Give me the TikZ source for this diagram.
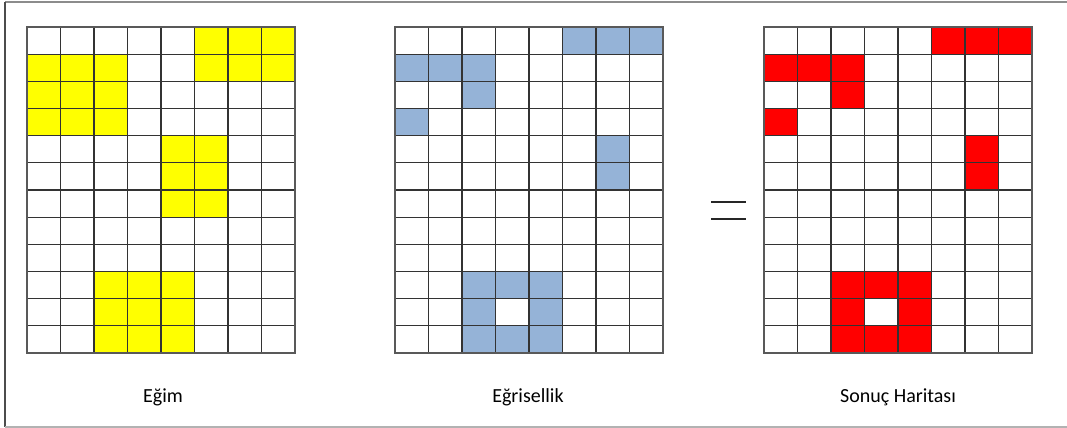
\documentclass[tikz,border=0pt]{standalone}
\usepackage{fontspec}
\setmainfont{Carlito}
\definecolor{cellyellow}{RGB}{255,255,0}
\definecolor{cellblue}{RGB}{149,179,215}
\definecolor{cellred}{RGB}{255,0,0}
\tikzset{
  gridline/.style={draw=black!80,line width=0.8pt},
  framegrid/.style={draw=black!65,line width=1pt},
  caption/.style={inner sep=0.75pt,font=\fontsize{15}{18}\selectfont},
}
% one 8 x 12 map, left edge at #1
\newcommand{\mapgrid}[1]{%
  \foreach \i in {1,...,7} \draw[gridline] ({#1+33.5*\i},27) -- ({#1+33.5*\i},353);
  \foreach \j in {1,...,11} \draw[gridline] (#1,{27+27.1667*\j}) -- ({#1+268},{27+27.1667*\j});
  \draw[framegrid] (#1,27) rectangle ({#1+268},353);
}
\begin{document}
\begin{tikzpicture}[x=0.75pt,y=0.75pt,yscale=-1,xscale=1]
\useasboundingbox (0,0) rectangle (1067,428);

%Frame
\draw[black!45,line width=0.9pt] (1067,2) -- (5,2) ;
\draw[black!70,line width=1.2pt] (5,2) -- (5,427) ;
\draw[black!30,line width=1.2pt] (5,427) -- (1067,427) ;

%Shape: Egim cells
\fill[cellyellow] (194.5,27) rectangle (295,81.33) ;
\fill[cellyellow] (27,54.17) rectangle (127.5,135.67) ;
\fill[cellyellow] (161,135.67) rectangle (228,217.17) ;
\fill[cellyellow] (94,271.5) rectangle (194.5,353) ;
%Shape: Egrisellik cells
\fill[cellblue] (562.5,27) rectangle (663,54.17) ;
\fill[cellblue] (395,54.17) rectangle (495.5,81.33) ;
\fill[cellblue] (462,81.33) rectangle (495.5,108.5) ;
\fill[cellblue] (395,108.5) rectangle (428.5,135.67) ;
\fill[cellblue] (596,135.67) rectangle (629.5,190) ;
\fill[cellblue,even odd rule] (462,271.5) rectangle (562.5,353) (495.5,298.67) rectangle (529,325.83) ;
%Shape: Sonuc cells
\fill[cellred] (931.5,27) rectangle (1032,54.17) ;
\fill[cellred] (764,54.17) rectangle (864.5,81.33) ;
\fill[cellred] (831,81.33) rectangle (864.5,108.5) ;
\fill[cellred] (764,108.5) rectangle (797.5,135.67) ;
\fill[cellred] (965,135.67) rectangle (998.5,190) ;
\fill[cellred,even odd rule] (831,271.5) rectangle (931.5,353) (864.5,298.67) rectangle (898,325.83) ;

%Grids
\mapgrid{27}
\mapgrid{395}
\mapgrid{764}

%Equals sign
\draw[black!85,line width=1.2pt] (711,202) -- (746,202) ;
\draw[black!85,line width=1.2pt] (711,219) -- (746,219) ;

% Text Node
\node[caption] (egim) at (163,397) {Eğim};
% Text Node
\node[caption] (egrisellik) at (528,397) {Eğrisellik};
% Text Node
\node[caption] (sonuc) at (898,397) {Sonuç Haritası};

\end{tikzpicture}
\end{document}
